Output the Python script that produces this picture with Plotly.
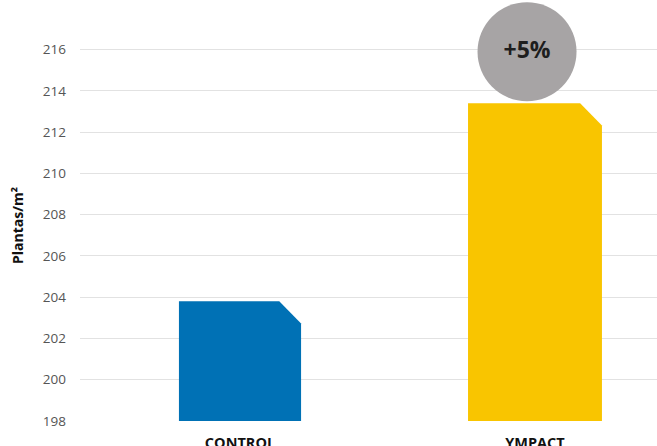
import plotly.graph_objects as go

categories = ["CONTROL", "YMPACT"]
values = [203.8, 213.4]
colors = ["#0071b5", "#f9c500"]
y_ticks = [198, 200, 202, 204, 206, 208, 210, 212, 214, 216]
y_title = "Plantas/m²"

# layout geometry (x in category units: 0, 1)
bar_widths = [0.414, 0.454]
base = 198
cut_x = 0.074
cut_y = 1.07

fig = go.Figure()
for i, (cat, v, c, w) in enumerate(zip(categories, values, colors, bar_widths)):
    x0, x1 = i - w / 2, i + w / 2
    xs = [x0, x0, x1 - cut_x, x1, x1, x0]
    ys = [base, v, v, v - cut_y, base, base]
    fig.add_trace(go.Scatter(x=xs, y=ys, fill="toself", fillcolor=c, mode="lines",
                             line=dict(width=0, color=c), hoverinfo="skip", showlegend=False))

pct = round((values[1] / values[0] - 1) * 100)
fig.add_trace(go.Scatter(
    x=[0.973], y=[values[1] + 2.5], mode="markers+text",
    marker=dict(size=99, color="#a7a4a5", opacity=1, line=dict(width=0)),
    text=[f"<b>+{pct}%</b>"], textposition="middle center",
    textfont=dict(family="Open Sans, sans-serif", size=23, color="#1e1e1e"),
    hoverinfo="skip", showlegend=False, cliponaxis=False))

fig.update_layout(
    width=657, height=446,
    margin=dict(l=80, r=0, t=0, b=25, autoexpand=False),
    paper_bgcolor="white", plot_bgcolor="white",
    xaxis=dict(range=[-0.5424, 1.4136], tickvals=[0, 1], ticktext=[f"<b>{c}</b>" for c in categories],
               showgrid=False, zeroline=False, showline=False, ticks="", automargin=False,
               tickfont=dict(family="Open Sans, sans-serif", size=14.5, color="#111"),
               ticklabelstandoff=11),
    yaxis=dict(range=[198, 218.41], tickvals=y_ticks, showgrid=True, gridcolor="#e2e2e2", gridwidth=1,
               zeroline=False, showline=False, ticks="", automargin=False,
               tickfont=dict(family="Open Sans, sans-serif", size=13.5, color="#555"),
               ticklabelstandoff=13),
    annotations=[dict(text=f"<b>{y_title}</b>", textangle=-90, xref="paper", yref="paper",
                      x=-63 / 577, y=(421 - 226) / 421, xanchor="center", yanchor="middle",
                      showarrow=False, font=dict(family="Open Sans, sans-serif", size=14, color="#111"))],
)

fig.write_html("out.html", config={"displayModeBar": False},
               post_script="document.body.style.margin='0';")
